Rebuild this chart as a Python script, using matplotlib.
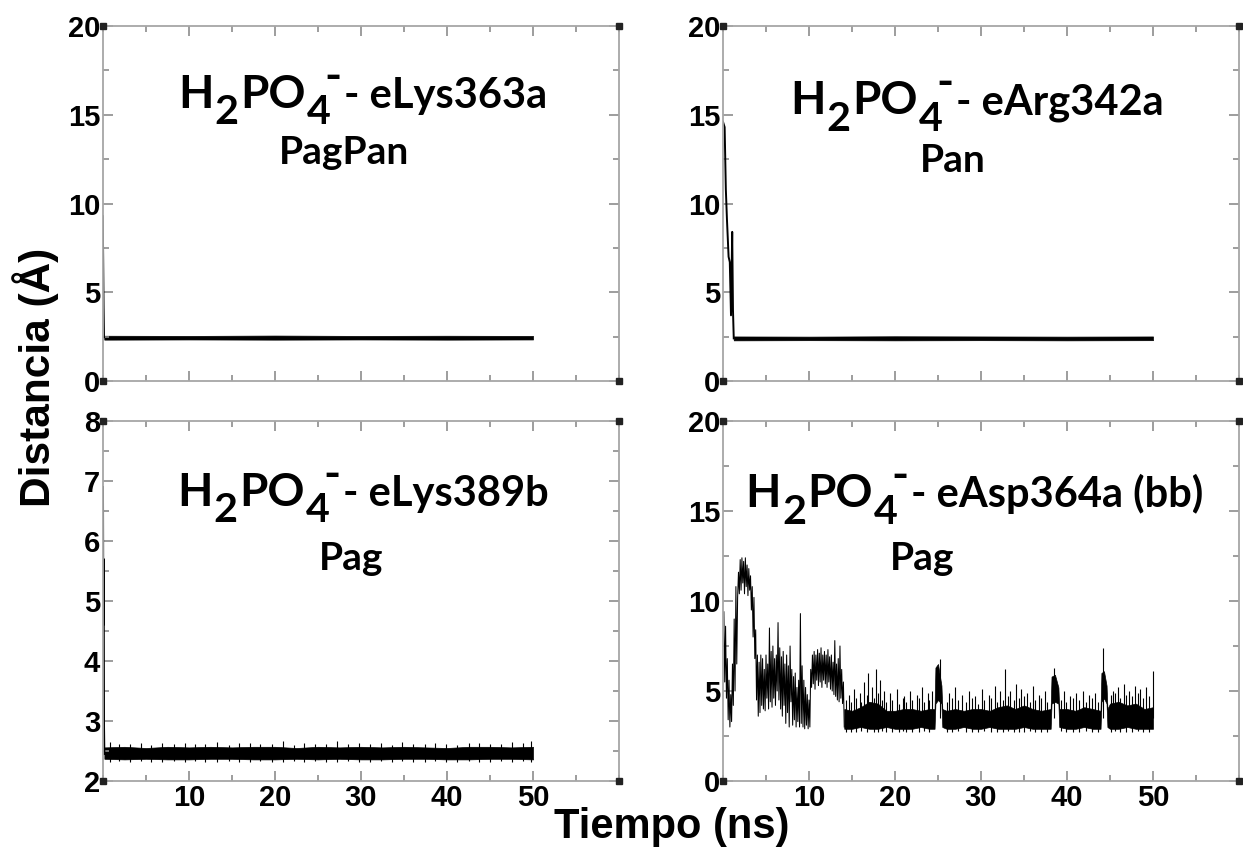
import numpy as np
import matplotlib
matplotlib.use("Agg")
import matplotlib.pyplot as plt
from matplotlib.font_manager import FontProperties
from matplotlib.textpath import TextToPath
from matplotlib.transforms import offset_copy
from matplotlib.ticker import MultipleLocator, FixedLocator

# ---------------------------------------------------------------- data
# time axis (ns) and distance (Å) for each contact

# H2PO4- ... eLys363a (PagPan)
a_start_t = [0.00, 0.05, 0.10, 0.15]
a_start_d = [9.3, 7.0, 4.2, 2.45]
a_band_t = [0.15, 10, 20, 30, 40, 50]
a_band_lo = [2.33, 2.34, 2.33, 2.34, 2.33, 2.34]
a_band_hi = [2.55, 2.54, 2.56, 2.54, 2.55, 2.54]

# H2PO4- ... eArg342a (Pan)
b_start_t = [0.00, 0.19, 0.33, 0.46, 0.65, 0.79, 0.93, 1.07, 1.16, 1.25]
b_start_d = [14.6, 14.3, 10.8, 9.1, 7.0, 6.7, 3.7, 8.4, 4.0, 2.4]
b_band_t = [1.25, 10, 20, 30, 40, 50]
b_band_lo = [2.29, 2.30, 2.29, 2.30, 2.29, 2.30]
b_band_hi = [2.51, 2.50, 2.52, 2.51, 2.50, 2.51]

# H2PO4- ... eLys389b (Pag)
c_start_t = [0.00, 0.04, 0.08, 0.12, 0.16]
c_start_d = [6.9, 4.6, 5.7, 2.9, 2.45]
c_band_t = [0.16, 2.5, 5, 7.5, 10, 12.5, 15, 17.5, 20, 22.5, 25,
            27.5, 30, 32.5, 35, 37.5, 40, 42.5, 45, 47.5, 50]
c_band_lo = [2.37, 2.36, 2.37, 2.36, 2.36, 2.37, 2.37, 2.36, 2.36, 2.37, 2.36,
             2.37, 2.36, 2.36, 2.37, 2.37, 2.36, 2.36, 2.37, 2.37, 2.36]
c_band_hi = [2.56, 2.57, 2.55, 2.57, 2.56, 2.57, 2.56, 2.57, 2.57, 2.55, 2.57,
             2.56, 2.57, 2.56, 2.57, 2.56, 2.55, 2.57, 2.57, 2.56, 2.57]
c_spike_t = [0.8, 1.9, 3.1, 4.4, 5.6, 6.9, 8.2, 9.5, 10.7, 11.9, 13.2, 14.6,
             15.8, 17.1, 18.3, 19.6, 20.9, 22.2, 23.4, 24.7, 25.9, 27.2, 28.5,
             29.8, 31.0, 32.3, 33.6, 34.8, 36.1, 37.4, 38.6, 39.9, 41.2, 42.5,
             43.7, 45.0, 46.3, 47.6, 48.8, 49.8]
c_spike_hi = [2.65, 2.62, 2.61, 2.64, 2.60, 2.63, 2.61, 2.64, 2.62, 2.61,
              2.65, 2.60, 2.63, 2.64, 2.61, 2.62, 2.66, 2.60, 2.64, 2.62,
              2.61, 2.66, 2.62, 2.64, 2.61, 2.63, 2.60, 2.65, 2.62, 2.61,
              2.64, 2.62, 2.60, 2.63, 2.64, 2.61, 2.62, 2.65, 2.64, 2.66]
c_spike_lo = [2.32, 2.33, 2.31, 2.33, 2.32, 2.31, 2.33, 2.32, 2.33, 2.31,
              2.32, 2.33, 2.32, 2.31, 2.33, 2.32, 2.31, 2.33, 2.32, 2.33,
              2.31, 2.32, 2.33, 2.32, 2.31, 2.33, 2.32, 2.33, 2.31, 2.32,
              2.33, 2.32, 2.31, 2.33, 2.32, 2.31, 2.33, 2.32, 2.33, 2.32]

# H2PO4- ... eAsp364a (bb) (Pag): early, strongly fluctuating part
d_trace_t = [0.1, 0.2, 0.3, 0.4, 0.5, 0.6, 0.7, 0.8, 0.9, 1.0,
             1.1, 1.2, 1.3, 1.4, 1.5, 1.6, 1.7, 1.8, 1.9, 2.0,
             2.1, 2.2, 2.3, 2.4, 2.5, 2.6, 2.7, 2.8, 2.9, 3.0,
             3.1, 3.2, 3.3, 3.4, 3.5, 3.6, 3.7, 3.8, 3.9, 4.0,
             4.1, 4.2, 4.3, 4.4, 4.5, 4.6, 4.7, 4.8, 4.9, 5.0,
             5.1, 5.2, 5.3, 5.4, 5.5, 5.6, 5.7, 5.8, 5.9, 6.0,
             6.1, 6.2, 6.3, 6.4, 6.5, 6.6, 6.7, 6.8, 6.9, 7.0,
             7.1, 7.2, 7.3, 7.4, 7.5, 7.6, 7.7, 7.8, 7.9, 8.0,
             8.1, 8.2, 8.3, 8.4, 8.5, 8.6, 8.7, 8.8, 8.9, 9.0,
             9.1, 9.2, 9.3, 9.4, 9.5, 9.6, 9.7, 9.8, 9.9, 10.0,
             10.1, 10.2, 10.3, 10.4, 10.5, 10.6, 10.7, 10.8, 10.9, 11.0,
             11.1, 11.2, 11.3, 11.4, 11.5, 11.6, 11.7, 11.8, 11.9, 12.0,
             12.1, 12.2, 12.3, 12.4, 12.5, 12.6, 12.7, 12.8, 12.9, 13.0,
             13.1, 13.2, 13.3, 13.4, 13.5, 13.6, 13.7, 13.8, 13.9, 14.0,
             14.1]
d_trace_d = [9.4, 5.5, 8.6, 4.6, 6.8, 3.4, 5.6, 3.0, 4.8, 3.3,
             6.5, 4.2, 9.0, 5.0, 10.8, 6.5, 10.2, 11.6, 10.4, 12.3,
             10.6, 12.4, 11.0, 12.2, 10.4, 12.4, 10.8, 12.0, 10.3, 11.8,
             10.6, 11.4, 9.5, 10.8, 8.0, 10.2, 6.8, 8.4, 4.5, 7.0,
             3.6, 6.6, 3.8, 7.0, 4.2, 6.8, 4.0, 6.2, 3.9, 7.0,
             4.6, 6.5, 4.0, 8.5, 4.4, 7.2, 4.1, 7.5, 4.6, 6.8,
             4.2, 7.0, 5.0, 8.8, 4.5, 7.4, 4.0, 6.9, 3.6, 7.2,
             4.2, 6.5, 3.2, 7.0, 3.8, 6.4, 3.0, 7.5, 4.4, 6.2,
             3.1, 5.8, 3.4, 6.0, 3.0, 5.2, 3.3, 5.6, 3.0, 9.3,
             3.2, 6.4, 3.0, 5.6, 2.9, 5.2, 3.1, 4.8, 2.9, 4.5,
             3.0, 6.2, 5.2, 7.0, 5.4, 7.2, 5.1, 7.0, 5.6, 7.3,
             5.3, 7.1, 5.5, 7.4, 5.2, 7.0, 5.6, 7.2, 5.4, 7.0,
             5.2, 7.3, 5.5, 6.9, 5.1, 7.0, 5.0, 6.6, 4.8, 7.8,
             4.7, 6.5, 4.5, 6.8, 4.4, 7.5, 4.6, 6.2, 4.3, 5.5,
             3.0]
# later part: envelope of the fluctuation band and isolated excursions
d_band_t = [14.1, 15, 16, 17, 18, 19, 20, 21, 22, 23, 24, 24.6, 24.7, 25.0,
            25.4, 25.5, 26, 27, 28, 29, 30, 31, 32, 33, 34, 35, 36, 37, 38.1,
            38.2, 38.6, 39.0, 39.1, 40, 41, 42, 43, 43.9, 44.0, 44.3, 44.6,
            44.7, 45, 46, 47, 48, 49, 50]
d_band_hi = [4.0, 3.9, 4.1, 4.4, 4.3, 3.9, 3.9, 4.0, 4.0, 3.9, 4.0, 4.0, 6.3,
             6.5, 5.3, 4.0, 3.9, 4.0, 3.9, 4.0, 4.0, 3.9, 4.1, 4.2, 4.0, 4.2,
             4.0, 3.9, 4.0, 5.8, 5.9, 5.2, 4.0, 4.0, 3.9, 4.1, 4.0, 3.9, 6.0,
             6.1, 5.3, 4.0, 4.3, 4.4, 4.2, 4.3, 4.0, 4.1]
d_band_lo = [2.9, 2.9, 3.0, 2.9, 2.9, 3.0, 2.9, 2.9, 2.9, 3.0, 2.9, 2.9, 4.3,
             4.5, 4.3, 3.0, 2.9, 2.9, 3.0, 2.9, 2.9, 3.0, 2.9, 2.9, 2.9, 3.0,
             2.9, 2.9, 2.9, 4.3, 4.4, 4.3, 3.0, 2.9, 2.9, 3.0, 2.9, 2.9, 4.4,
             4.6, 4.3, 3.0, 2.9, 2.9, 3.0, 2.9, 2.9, 2.9]
d_spike_t = [14.6, 15.2, 15.9, 16.4, 16.9, 17.3, 17.8, 18.2, 18.7, 19.4, 20.2,
             21.0, 21.7, 22.5, 23.1, 23.8, 24.3, 25.2, 26.3, 27.0, 27.8, 28.6,
             29.3, 30.1, 30.9, 31.6, 32.2, 32.8, 33.4, 34.1, 34.7, 35.3, 36.0,
             36.7, 37.4, 38.5, 39.6, 40.4, 41.1, 41.9, 42.6, 43.3, 44.2, 45.3,
             45.9, 46.6, 47.2, 47.9, 48.5, 49.2, 50.0]
d_spike_hi = [4.8, 5.1, 4.9, 5.5, 6.0, 5.2, 6.2, 5.6, 5.0, 4.9, 5.1, 4.7, 5.0,
              4.8, 5.2, 4.9, 5.0, 6.8, 4.9, 5.2, 4.8, 5.0, 4.7, 5.1, 4.8, 5.3,
              5.0, 6.2, 5.0, 5.4, 5.1, 4.9, 5.3, 4.8, 5.0, 6.3, 5.0, 4.7, 4.9,
              5.0, 4.8, 4.9, 7.4, 5.0, 5.2, 5.4, 5.0, 5.3, 5.1, 5.2, 6.1]
# short excursions just above / below the band
d_hair_t = [14.3, 14.9, 15.5, 16.1, 16.7, 17.5, 18.0, 18.5, 19.0, 19.7, 20.5,
            20.9, 21.3, 22.0, 22.8, 23.4, 24.0, 26.0, 26.6, 27.3, 28.2, 28.9,
            29.6, 30.4, 31.2, 31.9, 32.5, 33.1, 33.8, 34.4, 35.0, 35.7, 36.3,
            37.0, 37.7, 39.3, 39.9, 40.7, 41.4, 42.2, 42.9, 43.6, 45.1, 45.6,
            46.2, 46.9, 47.5, 48.2, 48.8, 49.5]
d_hair_hi = [4.5, 4.4, 4.6, 4.4, 4.8, 4.6, 4.9, 4.5, 4.4, 4.5, 4.3, 4.6, 4.4,
             4.5, 4.6, 4.4, 4.5, 4.4, 4.6, 4.5, 4.4, 4.6, 4.3, 4.5, 4.6, 4.4,
             4.5, 4.7, 4.5, 4.6, 4.7, 4.4, 4.5, 4.6, 4.4, 4.5, 4.4, 4.6, 4.5,
             4.4, 4.6, 4.4, 4.8, 4.9, 4.6, 4.8, 4.7, 4.9, 4.6, 4.7]
d_hair_lo = [2.7, 2.75, 2.7, 2.8, 2.7, 2.75, 2.7, 2.8, 2.7, 2.75, 2.7, 2.8,
             2.7, 2.75, 2.7, 2.8, 2.7, 2.75, 2.7, 2.8, 2.7, 2.75, 2.7, 2.8,
             2.7, 2.75, 2.7, 2.8, 2.7, 2.75, 2.7, 2.8, 2.7, 2.75, 2.7, 2.8,
             2.7, 2.75, 2.7, 2.8, 2.7, 2.75, 2.7, 2.8, 2.7, 2.75, 2.7, 2.8,
             2.7, 2.75]

# panel texts
titles = ["- eLys363a", "- eArg342a", "- eLys389b", "- eAsp364a (bb)"]
systems = ["PagPan", "Pan", "Pag", "Pag"]
x_ticks = [10, 20, 30, 40, 50]
y_ticks_a = [0, 5, 10, 15, 20]
y_ticks_c = [2, 3, 4, 5, 6, 7, 8]

# ---------------------------------------------------------------- style
plt.rcParams["font.family"] = ["Liberation Sans", "DejaVu Sans"]
plt.rcParams["font.weight"] = "bold"

W, H = 1243, 849
fig = plt.figure(figsize=(W / 100, H / 100), dpi=100)

def px_axes(left, top, right, bottom):
    return fig.add_axes([left / W, 1 - bottom / H, (right - left) / W,
                         (bottom - top) / H])

ax_a = px_axes(103, 26, 619, 381)
ax_b = px_axes(723, 26, 1239, 381)
ax_c = px_axes(103, 421, 619, 781)
ax_d = px_axes(723, 421, 1239, 781)

SPINE = "#a6a6a6"
TICK = "#8c8c8c"

def style(ax, ylim, yticks, yminor, xlabels):
    ax.set_xlim(0, 60)
    ax.set_ylim(*ylim)
    ax.xaxis.set_major_locator(FixedLocator(x_ticks))
    ax.xaxis.set_minor_locator(MultipleLocator(5))
    ax.yaxis.set_major_locator(FixedLocator(yticks))
    ax.yaxis.set_minor_locator(MultipleLocator(yminor))
    for s in ax.spines.values():
        s.set_color(SPINE)
        s.set_linewidth(1.3)
    ax.tick_params(which="both", direction="in", top=True, right=True,
                   color=TICK, width=1.2, labelsize=21, pad=2)
    ax.tick_params(which="major", length=7)
    ax.tick_params(which="minor", length=4.5)
    if not xlabels:
        ax.tick_params(axis="x", labelbottom=False)
    # small square marks at the frame corners
    ax.plot([0, 0, 1, 1], [0, 1, 0, 1], "s", color="#222222", ms=4,
            transform=ax.transAxes, clip_on=False, zorder=5)

style(ax_a, (0, 20), y_ticks_a, 2.5, False)
style(ax_b, (0, 20), y_ticks_a, 2.5, False)
style(ax_c, (2, 8), y_ticks_c, 0.5, True)
style(ax_d, (0, 20), y_ticks_a, 2.5, True)

K = "black"

ax_a.plot(a_start_t, a_start_d, color=K, lw=1.0)
ax_a.fill_between(a_band_t, a_band_lo, a_band_hi, color=K, lw=0.5)

ax_b.plot(b_start_t, b_start_d, color=K, lw=1.4)
ax_b.fill_between(b_band_t, b_band_lo, b_band_hi, color=K, lw=0.5)

ax_c.plot(c_start_t, c_start_d, color=K, lw=1.4)
ax_c.fill_between(c_band_t, c_band_lo, c_band_hi, color=K, lw=0.5)
ax_c.vlines(c_spike_t, 2.45, c_spike_hi, color=K, lw=0.8)
ax_c.vlines(c_spike_t, c_spike_lo, 2.45, color=K, lw=0.8)

ax_d.plot(d_trace_t, d_trace_d, color=K, lw=0.75)
ax_d.fill_between(d_band_t, d_band_lo, d_band_hi, color=K, lw=0.5)
ax_d.vlines(d_spike_t, 3.5, d_spike_hi, color=K, lw=0.8)
ax_d.vlines(d_hair_t, 3.5, d_hair_hi, color=K, lw=0.8)
ax_d.vlines(d_hair_t, d_hair_lo, 3.5, color=K, lw=0.8)

# ---------------------------------------------------------------- titles
ttp = TextToPath()

def width_pt(s, fp):
    return ttp.get_text_width_height_descent(s, fp, ismath=False)[0]

def formula_title(ax, x0, y0, suffix, big=33, small=30, sub=0.9):
    fb = FontProperties(family="Lato", weight="bold", size=big)
    fs = FontProperties(family="Lato", weight="bold", size=big * sub)
    fx = FontProperties(family="Lato", weight="bold", size=small)
    drop = 0.36 * big
    gap = 0.03 * big
    x = 0.0
    for s, fp, dy in [("H", fb, 0), ("2", fs, -drop), ("PO", fb, 0),
                      ("4", fs, -drop)]:
        tr = offset_copy(ax.transAxes, fig=fig, x=x, y=dy, units="points")
        ax.text(x0, y0, s, fontproperties=fp, transform=tr,
                ha="left", va="baseline")
        x += width_pt(s, fp) + gap
    # superscript charge bar, tucked against the "4"
    xb = x - 0.17 * big
    tr = offset_copy(ax.transAxes, fig=fig, x=xb, y=0.37 * big,
                     units="points")
    ax.text(x0, y0, "-", fontproperties=fb, transform=tr,
            ha="left", va="baseline")
    x = xb + width_pt("-", fb) + 2.0
    tr = offset_copy(ax.transAxes, fig=fig, x=x, y=0, units="points")
    ax.text(x0, y0, suffix, fontproperties=fx, transform=tr,
            ha="left", va="baseline")

def system_label(ax, xc, yb, s, size=28):
    ax.text(xc, yb, s, transform=ax.transAxes, ha="center", va="baseline",
            fontproperties=FontProperties(family="Lato", weight="bold",
                                          size=size))

formula_title(ax_a, 0.145, 0.77, titles[0])
formula_title(ax_b, 0.13, 0.752, titles[1])
formula_title(ax_c, 0.143, 0.765, titles[2])
formula_title(ax_d, 0.043, 0.76, titles[3])
system_label(ax_a, 0.467, 0.61, systems[0])
system_label(ax_b, 0.445, 0.59, systems[1])
system_label(ax_c, 0.48, 0.585, systems[2])
system_label(ax_d, 0.385, 0.585, systems[3])

# ---------------------------------------------------------------- axis titles
fig.text(36 / W, 1 - 377 / H, "Distancia (Å)", rotation=90, ha="center",
         va="center", fontsize=30.5, fontweight="bold")
fig.text(672 / W, 1 - 838 / H, "Tiempo (ns)", ha="center", va="baseline",
         fontsize=30, fontweight="bold")

fig.savefig("out.png", dpi=100)
